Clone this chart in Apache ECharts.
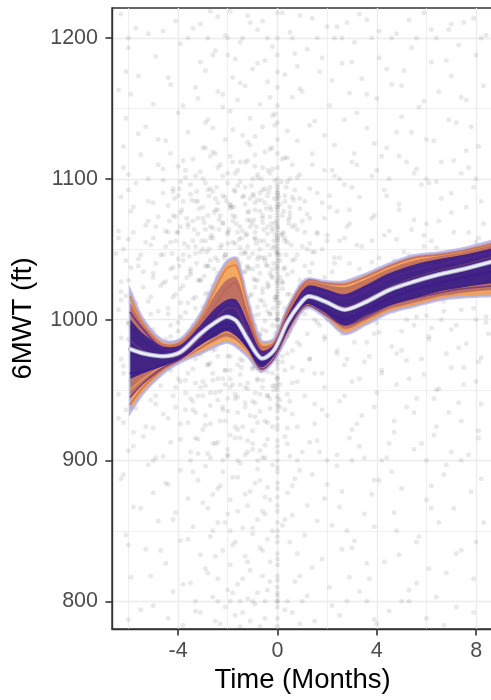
<!DOCTYPE html>
<html><head><meta charset="utf-8">
<script src="https://cdn.jsdelivr.net/npm/echarts@6/dist/echarts.min.js"></script>
<style>html,body{margin:0;padding:0;background:#fff;overflow:hidden;}#c{width:493px;height:700px;}</style>
</head><body><div id="c"></div>
<script>
// ---- data ----
const xTicks = [-4, 0, 4, 8];
const yTicks = [800, 900, 1000, 1100, 1200];
const xMinor = [-6, -2, 2, 6];
const yMinor = [850, 950, 1050, 1150];

const xKnots    = [-5.92, -5.4, -4.6, -3.9, -3.1, -2.5, -2.05, -1.65, -1.2, -0.65, -0.15, 0.4, 0.9, 1.25, 1.9, 2.7, 3.5, 4.5, 5.5, 6.5, 7.5, 8.7];
const meanLine  = [979, 976, 974, 977, 990, 998, 1002, 999, 986, 972.5, 978, 998, 1011, 1016.5, 1013, 1007, 1012, 1021, 1027, 1032, 1036, 1041.5];
const upperOuter= [1020, 1000, 985, 986, 1004, 1027, 1041, 1043.5, 1014, 985, 986, 1008, 1024, 1029, 1027, 1027, 1032, 1039.5, 1045.5, 1047.5, 1050.5, 1056];
const lowerOuter= [934.5, 948, 962, 970, 976, 981, 984, 981, 974, 963, 971, 988, 1004, 1009, 1002, 990, 996, 1005, 1009.5, 1014, 1016, 1017];
const upperMid  = [1012, 996, 983, 984, 1000, 1018, 1028, 1030, 1006, 982, 984, 1005, 1021, 1027, 1025, 1023, 1028, 1036, 1042, 1045, 1048, 1053];
const lowerMid  = [944, 954, 964, 971, 979, 985, 988, 985, 977, 964, 972, 990, 1005, 1010, 1003, 993, 999, 1007, 1012, 1016, 1019, 1021];
const upperCore = [1000, 990, 981, 982, 996, 1008, 1014, 1014, 998, 978, 982, 1003, 1018, 1024, 1022, 1018, 1024, 1033, 1039, 1043, 1046, 1051];
const lowerCore = [958, 962, 967, 972, 982, 988, 992, 988, 979, 966, 974, 992, 1007, 1011, 1005, 996, 1002, 1010, 1015, 1020, 1023, 1026];

// individual posterior draws (texture inside the band)
const drawA = [1016, 997, 982, 984, 1001, 1022, 1036, 1038, 1010, 980, 983, 1004, 1020, 1026, 1022, 1020, 1026, 1035, 1041, 1043, 1046, 1050];
const drawB = [940, 952, 965, 973, 984, 993, 998, 995, 983, 968, 975, 994, 1008, 1013, 1008, 998, 1004, 1012, 1017, 1021, 1024, 1027];
const drawC = [1005, 993, 979, 980, 994, 1006, 1012, 1010, 994, 976, 981, 1001, 1015, 1021, 1019, 1015, 1020, 1029, 1035, 1039, 1043, 1048];
const drawD = [962, 963, 968, 974, 986, 994, 997, 994, 982, 969, 975, 995, 1008, 1012, 1007, 1000, 1006, 1015, 1021, 1026, 1030, 1034];
const drawE = [950, 958, 967, 972, 981, 988, 991, 988, 978, 966, 973, 991, 1006, 1011, 1004, 993, 998, 1007, 1011, 1016, 1018, 1019];
const drawF = [995, 985, 978, 980, 993, 1010, 1022, 1026, 1002, 978, 982, 1006, 1022, 1028, 1026, 1025, 1030, 1038, 1044, 1046, 1049, 1054];
const drawG = [985, 978, 973, 975, 987, 1000, 1008, 1007, 990, 972, 977, 997, 1012, 1017, 1014, 1009, 1014, 1023, 1030, 1035, 1039, 1045];
const drawH = [945, 955, 966, 972, 983, 990, 994, 991, 980, 965, 972, 992, 1006, 1010, 1004, 996, 1001, 1010, 1015, 1019, 1022, 1024];

// observations at exactly month 0 (y values)
const stripeY = [1218,1200,1188,1176,1165,1152,1140,1128,1118,1108,1100,1094,1088,1084,1080,1076,1072,1068,1064,1060,1057,1054,1050,1047,1044,1040,1037,1034,1030,1027,1024,1020,1016,1012,1008,1004,1000,1000,996,992,988,984,980,975,970,965,960,955,950,944,938,930,922,914,906,900,892,884,874,864,856,850,842,834,826,818,810,804,800,800,796,788,782,1070,1062,1052,1042,1032,1022,1010,1000,990,1080,1066,1046,1018,1092,1058,1038,1026,1014,1002,986,972,958,940,
1096,1090,1086,1082,1078,1074,1066,1056,1048,1036,1028,1005,995,982,968,952,946,935,925,910,895,880,868,846,830,815,806];

const ptsUpper = [[-5.7,1207],[-4.6,1205],[-3.1,1210],[-2.4,1215],[-1.9,1219],[-1.2,1216],[-0.6,1212],[0.2,1218],[1.4,1214],[2.0,1208],[2.8,1211],[3.3,1217],[4.1,1205],[5.3,1213],[6.2,1206],[7.0,1210],[7.9,1214],
[-6.0,1200],[-3.6,1200],[-2.8,1200],[-2.0,1200],[-1.4,1200],[-0.4,1200],[0.6,1200],[1.6,1200],[2.3,1200],[2.6,1200],[3.8,1200],[4.6,1200],[5.6,1200],[6.4,1200],[8.2,1200],
[-2.6,1188],[-1.7,1185],[-0.8,1182],[0.8,1180],[1.8,1186],[3.0,1183],[4.4,1178],[6.8,1184],[-6.1,1176],
[-4.4,1172],[-3.3,1165],[-2.2,1160],[-1.5,1168],[-0.3,1158],[1.0,1162],[2.2,1170],[3.6,1160],[5.0,1166],[5.9,1155],[7.4,1158],[-5.9,1160],[-3.8,1152],
[-2.9,1140],[-1.8,1135],[-0.9,1130],[-0.2,1145],[1.3,1138],[2.7,1142],[3.9,1125],[4.8,1133],[6.0,1128],[7.2,1140],[-5.6,1132],[-4.8,1128],[-2.5,1118],[-1.3,1112],[-0.6,1108],[0.4,1115],[1.9,1106],[3.2,1110],[4.2,1116],[5.5,1104],[6.6,1112],[7.7,1108],[-6.2,1108],[-3.7,1106],
[-5.2,1100],[-3.0,1100],[-1.0,1100],[0.5,1100],[2.5,1100],[4.5,1100],[6.0,1100],[8.0,1100]];

const ptsCluster = [[-2.8,1092],[-2.2,1088],[-1.6,1095],[-1.1,1086],[-0.7,1090],[-0.3,1094],[0.3,1088],[0.7,1092],[-1.9,1082],[-2.5,1078],[-0.9,1078],[-0.5,1083],[0.5,1080],[1.1,1084],
[-3.2,1072],[-2.7,1066],[-2.3,1074],[-1.8,1070],[-1.4,1063],[-1.0,1068],[-0.6,1072],[-0.2,1065],[0.2,1074],[0.6,1066],[1.0,1070],[-2.0,1061],[-1.2,1076],[-0.4,1061],[-3.6,1068],[-4.2,1074],
[-3.4,1056],[-3.0,1050],[-2.6,1058],[-2.1,1046],[-1.7,1054],[-1.3,1048],[-0.9,1058],[-0.5,1044],[-0.1,1052],[0.3,1056],[0.8,1046],[1.3,1054],[-2.4,1042],[-1.5,1040],[-0.7,1050],[0.1,1042],[-3.8,1046],[-4.5,1052],[-5.0,1058],[1.8,1050],
[-3.5,1036],[-3.1,1028],[-2.8,1038],[-2.3,1024],[-1.9,1032],[-1.4,1026],[-1.0,1036],[-0.6,1022],[-0.2,1030],[0.2,1026],[0.6,1034],[1.0,1022],[-2.6,1020],[-1.2,1038],[-0.8,1028],[-0.4,1038],[-4.1,1030],[-4.7,1024],[-5.4,1034],[-6.0,1028],
[-3.3,1016],[-2.9,1008],[-2.5,1012],[-2.0,1004],[-1.6,1016],[-1.1,1008],[-0.7,1014],[-0.3,1004],[0.1,1012],[0.4,1018],[0.9,1006],[-2.2,1018],[-1.3,1002],[-0.5,1010],[-3.9,1012],[-4.4,1004],[-5.1,1016],[-5.8,1008],[-6.3,1014],[1.5,1000],
[-3.4,996],[-3.0,988],[-2.7,994],[-2.3,984],[-1.8,992],[-1.4,986],[-0.9,996],[-0.5,982],[-0.1,990],[0.3,994],[0.8,984],[-2.0,998],[-1.2,980],[-0.7,990],[-4.0,992],[-4.6,984],[-5.3,996],[-6.0,986],[1.2,990],
[-3.2,976],[-2.8,968],[-2.4,974],[-1.9,964],[-1.5,972],[-1.0,966],[-0.6,976],[-0.2,962],[0.2,970],[0.6,978],[-2.6,962],[-1.2,978],[-3.8,972],[-4.3,964],[-5.0,976],[-5.7,966],[-6.3,972],[1.0,964],
[-3.0,956],[-2.5,948],[-2.1,954],[-1.7,944],[-1.3,952],[-0.8,958],[-0.4,946],[0.1,954],[0.5,942],[-3.5,944],[-4.1,952],[-4.9,946],[-5.6,954],[-1.9,958],[-0.9,941],
[-3.3,934],[-2.7,926],[-2.2,936],[-1.6,922],[-1.1,932],[-0.5,928],[0.3,936],[-4.4,930],[-5.3,924],[-6.1,936],[0.8,924],
[-1.45,1058],[-1.15,1044],[-0.85,1066],[-0.55,1056],[-0.25,1078],[-0.15,1040],[-0.35,1024],[-0.75,1004],[-1.05,1018],[-1.35,1034],[-1.65,1006],[-0.45,992],[-0.12,1086],[-0.08,1060],[-0.18,1008],[-0.28,970],[-0.62,1044],[-0.95,1088],[-1.25,1060],[-1.55,1026],[-1.75,1080],[-2.05,1034],[-2.35,1064],[-0.38,1106],[-0.22,1122],[-0.1,1138],[0.15,1098],[0.25,1062],[0.35,1046],[0.12,1030],[0.45,1068],[-0.05,1016],[-0.65,1100],[-1.85,1024],[-2.15,990],[-2.45,1030],[-2.75,1050],[-1.45,966],[-0.85,972],[-0.15,950],
[-4.9,1040],[-5.5,1046],[-6.2,1050],[-4.0,1062],[-5.2,1070],[-3.3,1084],[-4.6,1090],[-5.8,1080],[-3.9,1098],[-2.0,1104],[-1.5,1112],[-2.9,1122],[-1.1,1124]];

const ptsDense = [[-4.3,1118],[-3.4,1114],[-2.6,1119],[-1.9,1116],[-1.2,1113],[-0.5,1119],[0.3,1115],
[-4.0,1109],[-3.1,1105],[-2.3,1110],[-1.6,1106],[-0.9,1109],[-0.3,1104],[0.6,1110],
[-4.6,1099],[-3.7,1101],[-2.9,1097],[-2.2,1102],[-1.5,1098],[-0.8,1103],[-0.1,1099],[0.8,1101],
[-4.2,1091],[-3.5,1089],[-2.7,1093],[-2.1,1087],[-1.7,1091],[-1.0,1089],[-0.5,1093],[0.0,1090],[0.6,1087],
[-4.4,1081],[-3.8,1084],[-3.0,1080],[-2.4,1083],[-1.9,1079],[-1.3,1082],[-0.8,1085],[-0.3,1080],[0.3,1084],[0.9,1079],
[-4.1,1073],[-3.4,1070],[-2.8,1074],[-2.2,1069],[-1.7,1073],[-1.1,1070],[-0.6,1074],[-0.1,1069],[0.5,1073],
[-4.5,1063],[-3.9,1066],[-3.2,1061],[-2.6,1065],[-2.0,1062],[-1.5,1066],[-0.9,1062],[-0.4,1066],[0.2,1061],[0.8,1064],
[-4.3,1055],[-3.6,1052],[-2.9,1056],[-2.3,1051],[-1.8,1055],[-1.2,1052],[-0.7,1056],[-0.2,1051],[0.4,1055],
[-4.6,1046],[-4.0,1043],[-3.3,1047],[-2.7,1042],[-2.1,1046],[-1.6,1043],[-1.0,1047],[-0.5,1042],[0.1,1046],[0.7,1043],
[-4.2,1037],[-3.5,1034],[-2.9,1038],[-2.4,1033],[-1.8,1037],[-1.3,1034],[-0.8,1038],[-0.3,1033],[0.3,1037],
[-4.5,1027],[-3.8,1024],[-3.1,1028],[-2.5,1023],[-2.0,1027],[-1.5,1024],[-0.9,1028],[-0.4,1023],[0.2,1027],[0.9,1024],
[-4.1,1018],[-3.4,1015],[-2.8,1019],[-2.2,1014],[-1.7,1018],[-1.2,1015],[-0.6,1019],[-0.1,1014],[0.5,1018],
[-4.4,1008],[-3.7,1005],[-3.0,1009],[-2.4,1004],[-1.9,1008],[-1.4,1005],[-0.8,1009],[-0.3,1004],[0.3,1008],
[-4.0,998],[-3.3,995],[-2.6,999],[-2.0,994],[-1.5,998],[-1.0,995],[-0.5,999],[0.1,994],[0.7,998],
[-4.3,988],[-3.6,985],[-2.9,989],[-2.3,984],[-1.8,988],[-1.2,985],[-0.7,989],[-0.2,984],[0.4,988],
[-3.9,978],[-3.1,975],[-2.5,979],[-1.9,974],[-1.4,978],[-0.9,975],[-0.4,979],[0.2,974],
[-4.2,968],[-3.4,965],[-2.7,969],[-2.1,964],[-1.6,968],[-1.0,965],[-0.5,969],[0.3,964],
[-3.7,957],[-2.9,953],[-2.2,958],[-1.5,954],[-0.8,957],[-0.2,953],
[-3.2,946],[-2.4,943],[-1.7,947],[-1.0,942],[-0.4,946],
[-6.4,1058],[-5.8,1062],[-5.3,1055],[-4.9,1066],[-6.1,1042],[-5.6,1038],[-5.0,1030],[-6.3,1020],[-5.7,1012],[-5.1,1004],[-6.0,998],[-5.4,990],[-4.8,978],[-6.2,962],[-5.5,950],[-4.9,940],[-6.4,930],[-5.8,920],[-5.2,1084],[-6.0,1092],[-4.8,1110],
[1.4,1110],[2.3,1102],[3.1,1118],[4.0,1106],[5.2,1112],[6.4,1098],[7.6,1120],[1.2,1050],[2.0,1060],[2.9,1040],[3.8,1056],[4.7,1042],[5.9,1060],[7.0,1048],[8.1,1058],[1.5,1020],[2.4,1012],[3.3,1026],[4.3,1016],[5.4,1024],[6.6,1016],[7.7,1026],[1.9,986],[2.8,972],[3.9,990],[5.0,978],[6.2,994],[7.3,980],[8.4,998]];

const ptsDense2 = [[-3.95,1093],[-3.25,1091],[-2.45,1094],[-1.75,1092],[-1.05,1095],[-0.35,1091],[0.35,1094],
[-4.15,1086],[-3.45,1085],[-2.75,1088],[-2.05,1084],[-1.35,1088],[-0.65,1085],[0.05,1087],[0.65,1085],
[-3.85,1078],[-3.15,1079],[-2.55,1076],[-1.85,1080],[-1.15,1077],[-0.45,1079],[0.25,1077],
[-4.35,1070],[-3.65,1072],[-2.95,1069],[-2.35,1071],[-1.65,1068],[-0.95,1071],[-0.25,1068],[0.45,1071],
[-4.05,1062],[-3.35,1064],[-2.65,1060],[-1.95,1064],[-1.25,1061],[-0.55,1064],[0.15,1060],
[-3.75,1054],[-3.05,1056],[-2.25,1053],[-1.55,1057],[-0.85,1054],[-0.15,1056],[0.55,1053],
[-4.25,1047],[-3.55,1045],[-2.85,1048],[-2.15,1044],[-1.45,1047],[-0.75,1045],[-0.05,1048],
[-3.95,1038],[-3.25,1040],[-2.55,1036],[-1.85,1039],[-1.15,1036],[-0.45,1039],[0.25,1036],
[-3.65,1030],[-2.95,1031],[-2.35,1028],[-1.55,1031],[-0.95,1029],[-0.25,1031],
[-4.0,958],[-3.3,955],[-2.6,957],[-1.9,952],[-1.2,955],[-0.6,952],[0.0,958],[0.6,955],
[-3.7,948],[-3.0,946],[-2.3,949],[-1.6,945],[-0.9,948],[-0.3,944],[0.4,947],
[-4.1,938],[-3.4,936],[-2.7,939],[-2.0,935],[-1.3,938],[-0.7,935],[0.1,938],
[-3.6,927],[-2.9,925],[-2.1,928],[-1.4,924],[-0.8,927],[-0.2,924],
[-3.2,915],[-2.4,913],[-1.7,916],[-1.0,912],[-0.4,915],
[-2.8,905],[-2.0,903],[-1.2,906],[-0.5,902],
[1.1,1062],[1.5,1048],[1.9,1072],[2.3,1040],[2.7,1058],[1.3,1034],[2.1,1088],[2.9,1078]];

const ptsRight = [[1.2,1075],[1.6,1062],[2.1,1080],[2.5,1056],[2.9,1068],[3.4,1052],[3.8,1072],[4.3,1060],[4.9,1078],[5.4,1064],[5.9,1052],[6.5,1070],[7.1,1062],[7.6,1080],[8.3,1068],
[1.4,1040],[1.9,1030],[2.3,1044],[2.8,1022],[3.3,1036],[3.7,1018],[4.1,1044],[4.6,1028],[5.1,1048],[5.7,1032],[6.2,1056],[6.8,1040],[7.3,1022],[7.8,1046],[8.4,1034],
[1.1,1004],[1.7,996],[2.2,1008],[2.6,990],[3.1,1002],[3.6,984],[4.0,998],[4.5,1006],[5.0,992],[5.6,1002],[6.1,988],[6.7,1006],[7.2,996],[7.9,1008],[8.5,990],
[1.3,972],[1.8,962],[2.4,976],[3.0,956],[3.5,970],[4.2,962],[4.8,976],[5.3,958],[5.8,972],[6.4,950],[7.0,966],[7.5,954],[8.1,970],
[1.5,940],[2.0,932],[2.7,946],[3.2,926],[3.9,938],[4.7,920],[5.5,934],[6.3,944],[7.4,928],[8.2,940],
[2.0,1000],[3.5,1000],[5.2,1000],[6.6,1000],[8.0,1000],[1.6,1090],[3.0,1094],[4.4,1088],[5.8,1096],[7.0,1090]];

const ptsLower = [[-5.8,910],[-4.9,902],[-3.9,915],[-3.2,905],[-2.6,912],[-2.0,904],[-1.5,916],[-1.0,908],[-0.6,902],[0.4,912],[1.0,906],[1.6,914],[2.4,904],[3.3,910],[4.4,902],[5.8,912],[7.0,906],[8.1,916],
[-5.0,900],[-3.5,900],[-2.2,900],[-1.6,900],[-0.8,900],[0.8,900],[2.0,900],[3.0,900],[4.2,900],[6.0,900],[7.4,900],
[-6.2,890],[-4.5,884],[-3.4,892],[-2.4,880],[-1.8,888],[-1.3,876],[-0.7,886],[-0.3,872],[0.6,882],[1.4,890],[2.6,878],[3.9,886],[5.0,880],[6.7,890],[7.8,878],
[-5.5,866],[-4.2,858],[-3.0,870],[-2.1,856],[-1.6,864],[-1.0,852],[-0.5,862],[0.3,858],[1.2,868],[2.2,854],[3.5,862],[4.8,850],[6.2,866],[8.3,856],
[-2.6,850],[-1.9,850],[-0.2,850],[2.8,850],
[-6.0,840],[-4.7,836],[-3.6,844],[-2.5,832],[-1.8,840],[-1.2,828],[-0.6,836],[0.5,842],[1.8,830],[3.0,838],[4.3,828],[5.6,842],[7.2,834],
[-5.1,818],[-3.8,812],[-2.8,820],[-2.0,808],[-1.4,816],[-0.8,806],[-0.3,814],[0.9,818],[2.1,810],[3.7,816],[5.3,808],[6.8,820],
[-3.3,800],[-2.4,800],[-1.9,800],[-1.5,800],[-1.0,800],[-0.5,800],[0.4,800],[1.0,800],[2.8,800],[3.6,800],[5.0,800],[5.3,800],
[-5.5,794],[-4.4,788],[-3.1,792],[-2.3,784],[-1.7,790],[-1.1,786],[-0.7,782],[0.6,792],[1.5,786],[2.5,790],[4.0,784],[6.0,788],[7.9,792]];

const ptsExtra = [
[-6.3,1217],[-4.1,1212],[-2.7,1219],[-1.1,1211],[0.9,1216],[3.6,1213],[5.9,1218],[7.5,1211],
[-5.2,1203],[-3.4,1207],[-2.1,1202],[-0.8,1206],[0.5,1204],[2.4,1208],[4.8,1203],[6.9,1206],[8.4,1202],
[-6.0,1193],[-3.9,1196],[-2.5,1191],[-1.5,1197],[-0.2,1194],[1.2,1192],[3.1,1197],[5.4,1193],[7.3,1195],
[-4.9,1187],[-3.1,1183],[-2.0,1188],[-0.5,1184],[0.7,1189],[2.6,1182],[4.1,1186],[6.2,1183],[8.0,1188],
[-5.6,1173],[-2.9,1177],[-1.8,1172],[-1.0,1178],[0.3,1174],[1.7,1176],[3.4,1171],[5.1,1177],[7.0,1173],
[-6.4,1163],[-4.3,1167],[-2.4,1162],[-1.3,1166],[-0.4,1169],[0.9,1164],[2.9,1161],[4.6,1167],[6.5,1162],[8.3,1166],
[-5.0,1153],[-3.2,1157],[-2.2,1151],[-1.6,1156],[-0.7,1153],[0.6,1158],[2.1,1152],[4.0,1157],[5.7,1151],[7.6,1156],
[-6.1,1143],[-4.0,1147],[-2.8,1142],[-1.9,1148],[-1.1,1143],[-0.1,1146],[1.5,1141],[3.2,1147],[5.0,1144],[6.9,1142],
[-5.3,1137],[-3.6,1133],[-2.6,1136],[-1.4,1131],[-0.6,1137],[0.4,1134],[1.9,1131],[3.6,1136],[5.4,1133],[7.8,1137],
[-6.2,1123],[-4.5,1127],[-3.0,1122],[-2.1,1128],[-1.2,1126],[-0.3,1121],[0.8,1127],[2.3,1124],[4.4,1122],[6.3,1127],[8.1,1123],
[-5.5,1117],[-3.8,1113],[-2.7,1116],[-1.8,1112],[-0.9,1117],[0.2,1114],[1.4,1118],[3.0,1112],[4.9,1116],[7.1,1113],
[-6.0,1103],[-4.6,1107],[-3.3,1102],[-2.4,1108],[-1.7,1104],[-0.8,1101],[-0.2,1107],[0.9,1103],[2.2,1106],[3.8,1102],[5.6,1107],[7.4,1104],
[-5.7,1097],[-4.2,1093],[-3.5,1096],[-2.6,1091],[-2.0,1097],[-1.3,1094],[-0.6,1092],[0.4,1098],[1.3,1093],[2.7,1096],[4.3,1092],[6.1,1097],[7.9,1094],
[-6.3,1087],[-5.0,1083],[-4.0,1088],[-3.2,1084],[-2.5,1086],[-1.9,1081],[-1.4,1087],[-0.9,1083],[-0.4,1088],[0.1,1082],[0.9,1086],[1.8,1083],[3.3,1087],[4.9,1082],[6.6,1086],[8.2,1084],
[-5.9,1077],[-4.8,1073],[-3.9,1076],[-3.0,1072],[-2.4,1078],[-1.8,1074],[-1.2,1071],[-0.7,1077],[-0.3,1073],[0.5,1076],[1.3,1072],[2.4,1077],[3.9,1074],[5.5,1071],[7.0,1076],
[-6.4,1063],[-5.3,1067],[-4.4,1062],[-3.6,1066],[-2.9,1064],[-2.2,1068],[-1.6,1062],[-1.1,1066],[-0.6,1069],[-0.2,1063],[0.7,1067],[1.6,1061],[2.8,1066],[4.5,1063],[6.0,1068],[7.7,1062],
[-6.0,1057],[-5.1,1053],[-4.1,1056],[-3.3,1052],[-2.7,1058],[-2.0,1054],[-1.5,1051],[-0.9,1057],[-0.4,1053],[0.3,1058],[1.0,1052],[2.0,1056],[3.2,1053],[4.8,1057],[6.4,1051],[8.0,1055],
[-6.5,1047],[-5.6,1043],[-4.7,1046],[-3.8,1042],[-3.1,1048],[-2.5,1044],[-1.9,1041],[-1.3,1047],[-0.8,1043],[-0.3,1046],[0.6,1042],[1.4,1048],[2.5,1044],[3.8,1041],[5.3,1046],[6.8,1043],[8.3,1047],
[-5.9,1037],[-5.0,1033],[-4.3,1036],[-3.5,1032],[-2.8,1038],[-2.2,1034],[-1.7,1031],[-1.2,1037],[-0.7,1033],[-0.2,1036],[0.4,1032],[1.1,1038],[2.2,1034],[3.5,1031],[5.0,1036],[6.2,1033],[7.5,1037],
[-6.3,1027],[-5.4,1023],[-4.6,1026],[-3.9,1022],[-3.2,1028],[-2.6,1024],[-2.0,1021],[-1.4,1027],[-0.9,1023],[-0.4,1026],[0.2,1022],[0.9,1028],[1.8,1024],[3.0,1021],[4.4,1026],[5.8,1023],[7.2,1027],[8.5,1022],
[-6.1,1017],[-5.2,1013],[-4.2,1016],[-3.6,1012],[-2.9,1018],[-2.3,1014],[-1.8,1011],[-1.1,1017],[-0.6,1013],[-0.1,1016],[0.7,1012],[1.5,1018],[2.6,1014],[3.9,1011],[5.2,1016],[6.7,1013],[7.9,1017],
[-6.4,1007],[-5.6,1003],[-4.8,1006],[-3.9,1002],[-3.3,1008],[-2.7,1004],[-2.1,1001],[-1.5,1007],[-0.9,1003],[-0.4,1006],[0.3,1002],[1.2,1008],[2.2,1004],[3.4,1001],[4.7,1006],[6.0,1003],[7.4,1007],[8.4,1002],
[-6.0,997],[-5.0,993],[-4.3,996],[-3.5,992],[-2.9,998],[-2.4,994],[-1.7,991],[-1.1,997],[-0.6,993],[-0.2,996],[0.5,992],[1.6,998],[2.8,994],[4.1,991],[5.5,996],[7.0,993],
[-6.3,987],[-5.5,983],[-4.5,986],[-3.7,982],[-3.0,988],[-2.2,984],[-1.6,981],[-1.0,987],[-0.5,983],[0.2,986],[0.9,982],[1.9,988],[3.1,984],[4.6,981],[6.1,986],[7.6,983],
[-5.8,977],[-4.9,973],[-4.0,976],[-3.3,972],[-2.6,978],[-2.0,974],[-1.4,971],[-0.8,977],[-0.3,973],[0.4,976],[1.3,972],[2.4,978],[3.7,974],[5.2,971],[6.8,976],[8.2,973],
[-6.2,967],[-5.3,963],[-4.4,966],[-3.6,962],[-2.8,968],[-2.1,964],[-1.5,961],[-0.9,967],[-0.4,963],[0.6,966],[1.5,962],[2.7,968],[4.2,964],[5.9,961],[7.5,966],
[-5.9,957],[-4.7,953],[-3.9,956],[-3.1,952],[-2.4,958],[-1.8,954],[-1.2,951],[-0.6,957],[-0.1,953],[0.8,956],[1.9,952],[3.3,958],[4.8,954],[6.5,951],[8.0,956],
[-6.4,947],[-5.1,943],[-4.2,946],[-3.4,942],[-2.7,948],[-2.0,944],[-1.3,941],[-0.7,947],[0.1,943],[1.1,946],[2.5,942],[4.0,948],[5.6,944],[7.3,941],
[-5.7,937],[-4.6,933],[-3.7,936],[-2.9,932],[-2.2,938],[-1.6,934],[-0.9,931],[-0.3,937],[0.6,933],[1.8,936],[3.4,932],[5.2,938],[6.9,934],
[-6.2,927],[-5.0,923],[-3.9,926],[-3.0,922],[-2.3,928],[-1.7,924],[-1.0,921],[-0.4,927],[0.4,923],[1.5,926],[3.0,922],[4.7,928],[6.4,924],[8.1,921],
[-5.4,917],[-4.3,913],[-3.3,916],[-2.5,912],[-1.9,918],[-1.2,914],[-0.5,911],[0.3,917],[1.3,913],[2.9,916],[4.5,912],[6.3,918],
[-6.0,907],[-4.6,903],[-3.5,906],[-2.7,902],[-2.0,908],[-1.3,904],[-0.7,907],[0.5,903],[1.7,906],[3.5,902],[5.5,908],[7.7,904],
[-5.2,897],[-3.9,893],[-2.9,896],[-2.2,892],[-1.5,898],[-0.8,894],[-0.2,897],[0.9,893],[2.4,896],[4.6,892],[6.8,897],
[-6.3,887],[-4.4,883],[-3.2,886],[-2.3,882],[-1.6,888],[-0.9,884],[-0.4,881],[0.7,887],[2.0,883],[4.1,886],[6.2,882],[8.2,887],
[-5.0,877],[-3.6,873],[-2.6,876],[-1.9,872],[-1.1,878],[-0.5,874],[0.4,877],[1.9,873],[3.8,876],[6.0,872],
[-5.8,867],[-4.1,863],[-2.8,866],[-2.0,862],[-1.2,868],[-0.6,864],[0.6,861],[2.5,867],[4.7,863],[7.1,866],
[-4.8,857],[-3.4,853],[-2.4,856],[-1.4,852],[-0.8,858],[0.2,854],[1.6,857],[3.9,853],[6.5,856],
[-6.1,847],[-3.9,843],[-2.7,846],[-1.7,842],[-1.0,848],[-0.4,844],[1.1,847],[3.1,843],[5.7,846],[8.0,842],
[-5.3,837],[-3.1,833],[-2.2,836],[-1.3,832],[-0.7,838],[0.8,834],[2.6,837],[4.9,833],[7.4,836],
[-4.5,827],[-2.9,823],[-1.9,826],[-1.1,822],[-0.3,828],[1.4,824],[3.6,827],[6.1,823],
[-5.9,817],[-3.5,813],[-2.4,816],[-1.6,812],[-0.6,818],[0.7,814],[2.9,817],[5.6,813],[7.9,816],
[-4.2,807],[-2.6,803],[-1.8,806],[-1.2,802],[-0.4,808],[1.2,804],[3.3,807],[6.4,803],
[-5.0,797],[-3.3,793],[-2.1,796],[-1.4,792],[-0.9,798],[0.3,794],[2.2,797],[4.5,793],[7.2,796],
[-6.0,787],[-3.8,783],[-2.5,786],[-1.5,782],[-0.5,788],[0.9,784],[3.9,787],[6.7,783]];

// ---- build ----
const scatterData = stripeY.map(y => [0, y]).concat(ptsUpper, ptsCluster, ptsDense, ptsDense2, ptsRight, ptsLower, ptsExtra);
const FONT = 'Liberation Sans, Arial, Helvetica, sans-serif';
const gridColor = '#EBEBEB';
const markLines = [];
xTicks.forEach(v => markLines.push({xAxis: v, lineStyle: {width: 1.3}}));
xMinor.forEach(v => markLines.push({xAxis: v, lineStyle: {width: 0.8}}));
yTicks.forEach(v => markLines.push({yAxis: v, lineStyle: {width: 1.3}}));
yMinor.forEach(v => markLines.push({yAxis: v, lineStyle: {width: 0.8}}));

const SM = 0.3;
const withEnds = (arr) => [arr[0]].concat(arr, [arr[arr.length - 1]]);
const bandPolygon = (up, lo, fill, z, stroke, lw) => ({
  type: 'custom', coordinateSystem: 'cartesian2d', data: [0], silent: true, z,
  renderItem: (params, api) => {
    const top = xKnots.map((x, i) => api.coord([x, up[i]]));
    const bot = xKnots.map((x, i) => api.coord([x, lo[i]])).reverse();
    return {type: 'polygon', shape: {points: withEnds(top).concat(withEnds(bot)), smooth: SM},
            style: {fill: fill, stroke: stroke || null, lineWidth: lw || 0}};
  }
});
const curve = (ys, color, width, z) => ({
  type: 'custom', coordinateSystem: 'cartesian2d', data: [0], silent: true, z,
  renderItem: (params, api) => ({
    type: 'polyline',
    shape: {points: xKnots.map((x, i) => api.coord([x, ys[i]])), smooth: SM},
    style: {fill: null, stroke: color, lineWidth: width, lineCap: 'round', lineJoin: 'round'}
  })
});

const chart = echarts.init(document.getElementById('c'), null, {renderer: 'canvas'});
chart.setOption({
  animation: false,
  backgroundColor: '#fff',
  grid: {left: 112, right: 0, top: 8, bottom: 71, show: true, borderColor: '#333', borderWidth: 1.4, backgroundColor: 'transparent'},
  xAxis: {
    type: 'value', min: -6.66, max: 8.68,
    name: 'Time (Months)', nameLocation: 'middle', nameGap: 37,
    nameTextStyle: {color: '#000', fontSize: 27.5, fontFamily: FONT},
    axisLine: {show: true, onZero: false, lineStyle: {color: '#333', width: 1.4}},
    axisTick: {show: true, customValues: xTicks, length: 6.5, lineStyle: {color: '#333', width: 1.6}},
    axisLabel: {customValues: xTicks, color: '#4D4D4D', fontSize: 21.5, margin: 11, fontFamily: FONT, formatter: v => String(v)},
    splitLine: {show: false}
  },
  yAxis: {
    type: 'value', min: 780.3, max: 1221.3,
    name: '6MWT (ft)', nameLocation: 'middle', nameGap: 75,
    nameTextStyle: {color: '#000', fontSize: 27.5, fontFamily: FONT},
    axisLine: {show: true, onZero: false, lineStyle: {color: '#333', width: 1.4}},
    axisTick: {show: true, customValues: yTicks, length: 6.5, lineStyle: {color: '#333', width: 1.6}},
    axisLabel: {customValues: yTicks, color: '#4D4D4D', fontSize: 21.5, margin: 14, fontFamily: FONT, formatter: v => String(v)},
    splitLine: {show: false}
  },
  series: [
    {type: 'line', data: [], silent: true, z: 0,
     markLine: {z: 0, silent: true, symbol: 'none', label: {show: false}, lineStyle: {color: gridColor, type: 'solid'}, data: markLines, animation: false}},
    {type: 'scatter', data: scatterData, symbolSize: 5, silent: true, z: 1,
     itemStyle: {color: 'rgba(0,0,0,0.11)', borderWidth: 0}},
    bandPolygon(upperOuter, lowerOuter, '#F4A961', 3, 'rgba(170,170,235,0.75)', 3),
    bandPolygon(upperMid, lowerMid, 'rgba(150,70,100,0.55)', 4),
    curve(drawA, 'rgba(215,120,80,0.7)', 2, 4),
    curve(drawB, 'rgba(205,105,75,0.7)', 2, 4),
    curve(drawE, 'rgba(240,155,90,0.8)', 1.6, 4),
    curve(drawF, 'rgba(190,95,85,0.7)', 2, 4),
    curve(drawH, 'rgba(90,35,130,0.6)', 1.6, 4),
    bandPolygon(upperCore, lowerCore, 'rgba(42,22,138,0.85)', 5),
    curve(drawC, 'rgba(90,35,150,0.7)', 2, 5),
    curve(drawD, 'rgba(60,25,145,0.7)', 2, 5),
    curve(drawG, 'rgba(150,70,110,0.45)', 1.4, 5),
    curve(meanLine, '#ABABCF', 4.6, 6),
    curve(meanLine, '#EDEDF4', 2.6, 7)
  ]
});
</script></body></html>
